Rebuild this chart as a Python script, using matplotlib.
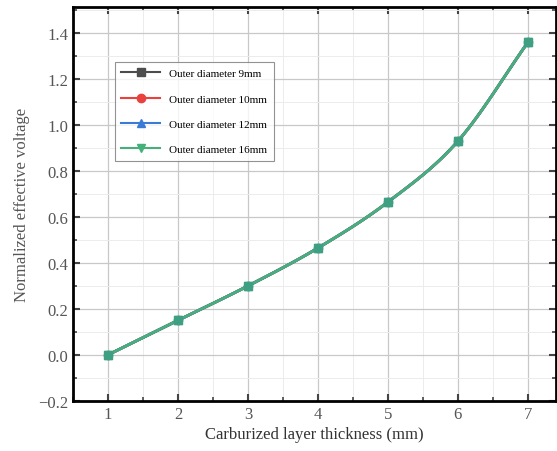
import numpy as np
import matplotlib.pyplot as plt
from matplotlib.ticker import MultipleLocator

plt.rcParams['font.family'] = ['Liberation Serif', 'DejaVu Serif']

thickness = [1, 2, 3, 4, 5, 6, 7]
d9 = [0.0, 0.15, 0.30, 0.465, 0.665, 0.93, 1.36]
d10 = [0.0, 0.15, 0.30, 0.465, 0.665, 0.93, 1.36]
d12 = [0.0, 0.15, 0.30, 0.465, 0.665, 0.93, 1.36]
d16 = [0.0, 0.15, 0.30, 0.465, 0.665, 0.93, 1.36]

labels = ["Outer diameter 9mm", "Outer diameter 10mm",
          "Outer diameter 12mm", "Outer diameter 16mm"]
colors = ["#4d4d4d", "#e8413e", "#3a7bd5", "#45b07a"]
markers = ["s", "o", "^", "v"]


def smooth(x, y, n=20):
    # catmull-rom curve through the points, only for drawing the line
    x = np.asarray(x, float)
    y = np.asarray(y, float)
    px = np.concatenate([[2 * x[0] - x[1]], x, [2 * x[-1] - x[-2]]])
    py = np.concatenate([[2 * y[0] - y[1]], y, [2 * y[-1] - y[-2]]])
    xs, ys = [], []
    t = np.linspace(0, 1, n)
    for i in range(1, len(px) - 2):
        for p, out in ((px, xs), (py, ys)):
            p0, p1, p2, p3 = p[i - 1], p[i], p[i + 1], p[i + 2]
            out.extend(0.5 * (2 * p1 + (-p0 + p2) * t
                              + (2 * p0 - 5 * p1 + 4 * p2 - p3) * t ** 2
                              + (-p0 + 3 * p1 - 3 * p2 + p3) * t ** 3))
    return xs, ys


fig = plt.figure(figsize=(5.57, 4.52), dpi=100)
ax = fig.add_axes([0.131, 0.111, 0.867, 0.871])

series = [d9, d10, d12, d16]
for ys, lab, c, m in zip(series, labels, colors, markers):
    sx, sy = smooth(thickness, ys)
    ax.plot(sx, sy, color=c, lw=2)
    ax.plot([], [], color=c, marker=m, ms=6, lw=1.5, label=lab)

# overlapping markers end up looking teal in the original
for ys, m in zip(series, markers):
    ax.plot(thickness, ys, linestyle="none", marker=m, color="#3f9f82", ms=6)

ax.set_xlim(0.5, 7.4)
ax.set_ylim(-0.2, 1.513)
ax.xaxis.set_major_locator(MultipleLocator(1))
ax.xaxis.set_minor_locator(MultipleLocator(0.5))
ax.yaxis.set_major_locator(MultipleLocator(0.2))
ax.yaxis.set_minor_locator(MultipleLocator(0.1))
ax.grid(which="major", color="#c8c8c8", lw=0.9)
ax.grid(which="minor", color="#ececec", lw=0.7)
ax.set_axisbelow(True)
ax.tick_params(which="both", direction="in", top=True, right=True,
               labelsize=12, colors="#444444", labelcolor="#555555")
ax.tick_params(which="major", length=5, width=1.5)
ax.tick_params(which="minor", length=3, width=1.2)
for s in ax.spines.values():
    s.set_linewidth(2)
ax.set_yticks(np.arange(-0.2, 1.41, 0.2))
ax.set_yticklabels(["\u22120.2", "0.0", "0.2", "0.4", "0.6", "0.8", "1.0", "1.2", "1.4"])

ax.set_xlabel("Carburized layer thickness (mm)", fontsize=12, color="#333333", labelpad=3)
ax.set_ylabel("Normalized effective voltage", fontsize=12, color="#555555", labelpad=6)

leg = ax.legend(loc="upper left", bbox_to_anchor=(0.075, 0.875), fontsize=8,
                frameon=True, fancybox=False, edgecolor="#777777",
                handlelength=3.5, labelspacing=1.4, borderpad=0.6)
leg.get_frame().set_linewidth(0.8)

plt.savefig("out.png", dpi=100)
